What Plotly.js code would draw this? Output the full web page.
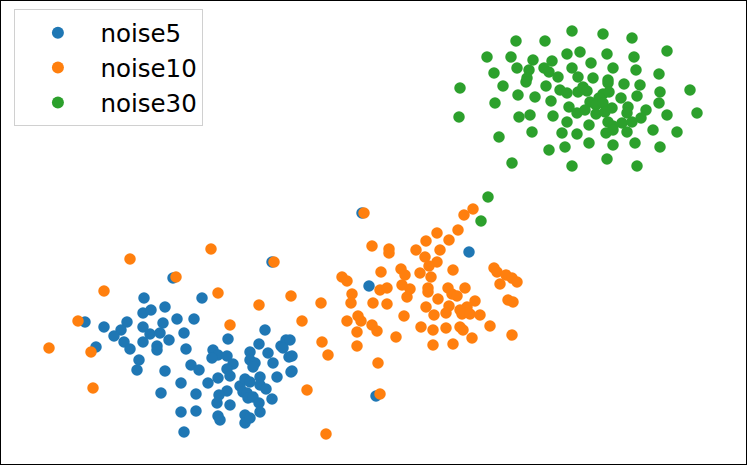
<!DOCTYPE html>
<html>
<head>
<meta charset="utf-8">
<script src="https://cdn.plot.ly/plotly-3.0.1.min.js"></script>
<style>
	html, body { margin: 0; padding: 0; background: #fff; }
	#chart { width: 747px; height: 465px; }
</style>
</head>
<body>
<div id="chart"></div>
<script>
// embedding coordinates (x right, y down)
const noise5X = [85, 104, 127, 121, 114, 124, 130, 144, 143, 151, 165, 143, 163, 150, 160, 143, 157, 157, 139, 137, 165, 161, 96, 173, 202, 177, 194, 169, 184, 186, 181, 191, 199, 208, 218, 213, 218, 212, 227, 228, 233, 227, 230, 227, 219, 217, 230, 196, 196, 181, 184, 218, 220, 245, 245, 250, 240, 245, 243, 250, 247, 248, 253, 259, 260, 260, 260, 266, 272, 277, 291, 273, 268, 250, 250, 255, 253, 259, 265, 281, 286, 283, 289, 272, 290, 292, 292, 369, 376, 362, 469]
const noise5Y = [322, 327, 322, 330, 336, 342, 349, 298, 313, 310, 307, 327, 323, 334, 333, 342, 346, 350, 360, 370, 371, 393, 347, 278, 298, 319, 319, 340, 333, 349, 383, 365, 370, 383, 378, 350, 355, 358, 356, 339, 364, 369, 376, 391, 395, 403, 405, 394, 411, 412, 432, 416, 420, 415, 423, 418, 386, 379, 392, 382, 393, 398, 397, 403, 412, 377, 385, 389, 399, 377, 372, 363, 353, 352, 360, 363, 367, 344, 330, 346, 340, 348, 357, 262, 340, 356, 371, 286, 396, 213, 252]

const noise10X = [130, 104, 78, 49, 91, 93, 211, 274, 176, 218, 259, 291, 230, 302, 307, 364, 372, 389, 389, 342, 347, 381, 352, 351, 373, 387, 380, 387, 401, 405, 402, 407, 404, 347, 358, 361, 357, 372, 377, 396, 322, 357, 328, 378, 380, 326, 321, 473, 464, 458, 437, 449, 426, 416, 440, 425, 437, 429, 453, 420, 431, 410, 428, 428, 448, 465, 452, 457, 438, 475, 426, 449, 467, 460, 434, 446, 462, 470, 480, 421, 433, 446, 460, 463, 490, 472, 433, 453, 512, 494, 497, 500, 506, 512, 517, 508, 513]
const noise10Y = [259, 291, 321, 348, 352, 388, 249, 262, 277, 293, 305, 296, 325, 321, 390, 213, 246, 249, 253, 277, 281, 272, 294, 303, 303, 304, 290, 288, 269, 275, 285, 297, 316, 321, 316, 321, 332, 325, 331, 337, 342, 346, 355, 363, 394, 434, 303, 209, 215, 230, 233, 240, 241, 250, 250, 257, 262, 266, 270, 273, 277, 289, 288, 292, 288, 288, 294, 296, 299, 301, 307, 306, 307, 310, 315, 313, 314, 314, 315, 327, 330, 328, 327, 330, 326, 338, 345, 344, 335, 268, 272, 284, 275, 278, 282, 300, 302]

const noise30X = [572, 516, 545, 487, 511, 567, 580, 533, 552, 517, 529, 544, 549, 572, 494, 527, 526, 558, 578, 460, 503, 546, 560, 567, 578, 518, 535, 551, 495, 569, 577, 459, 519, 530, 553, 567, 562, 532, 577, 499, 565, 549, 512, 572, 603, 632, 667, 607, 634, 591, 613, 636, 659, 593, 608, 608, 624, 640, 583, 587, 603, 609, 621, 637, 660, 690, 599, 590, 596, 603, 612, 628, 659, 646, 585, 596, 605, 627, 641, 667, 697, 608, 622, 632, 613, 589, 653, 677, 606, 613, 627, 589, 613, 635, 660, 607, 637, 488, 481]
const noise30Y = [31, 41, 41, 57, 57, 54, 52, 60, 61, 68, 70, 68, 72, 68, 73, 78, 82, 77, 77, 88, 86, 86, 90, 93, 92, 95, 97, 101, 103, 107, 113, 117, 117, 115, 116, 122, 133, 132, 134, 137, 147, 150, 163, 166, 34, 38, 51, 54, 57, 63, 68, 70, 74, 78, 80, 83, 84, 85, 87, 91, 94, 92, 98, 96, 92, 90, 98, 102, 105, 103, 108, 107, 103, 110, 110, 114, 112, 113, 118, 115, 113, 122, 123, 122, 126, 125, 130, 132, 133, 130, 132, 143, 145, 143, 147, 159, 166, 197, 221]

const seriesNames = ['noise5', 'noise10', 'noise30']
const seriesColors = ['#1f77b4', '#ff7f0e', '#2ca02c']

function makeTrace(xs, ys, i) {
	return {
		x: xs,
		y: ys,
		type: 'scatter',
		mode: 'markers',
		name: seriesNames[i],
		marker: {
			color: seriesColors[i],
			size: 11.5,
			line: { width: 0 },
		},
		hoverinfo: 'skip',
	}
}

function createScatter() {
	const traces = [
		makeTrace(noise5X, noise5Y, 0),
		makeTrace(noise10X, noise10Y, 1),
		makeTrace(noise30X, noise30Y, 2),
	]

	const hiddenAxis = {
		showgrid: false,
		zeroline: false,
		showticklabels: false,
		ticks: '',
		showline: true,
		mirror: true,
		linecolor: '#000',
		linewidth: 1,
	}

	const layout = {
		width: 747,
		height: 465,
		margin: { l: 1, r: 1, t: 1, b: 1, pad: 0 },
		paper_bgcolor: '#fff',
		plot_bgcolor: '#fff',
		xaxis: Object.assign({ range: [1, 746] }, hiddenAxis),
		yaxis: Object.assign({ range: [464, 1] }, hiddenAxis),
		showlegend: true,
		legend: {
			x: 0.018,
			y: 0.982,
			xanchor: 'left',
			yanchor: 'top',
			bgcolor: '#fff',
			bordercolor: '#d0d0d0',
			borderwidth: 1,
			itemsizing: 'constant',
			itemwidth: 75,
			font: { family: 'DejaVu Sans, sans-serif', size: 24.5, color: '#000' },
		},
	}

	Plotly.newPlot('chart', traces, layout, { staticPlot: true })
}

window.onload = createScatter
</script>
</body>
</html>
